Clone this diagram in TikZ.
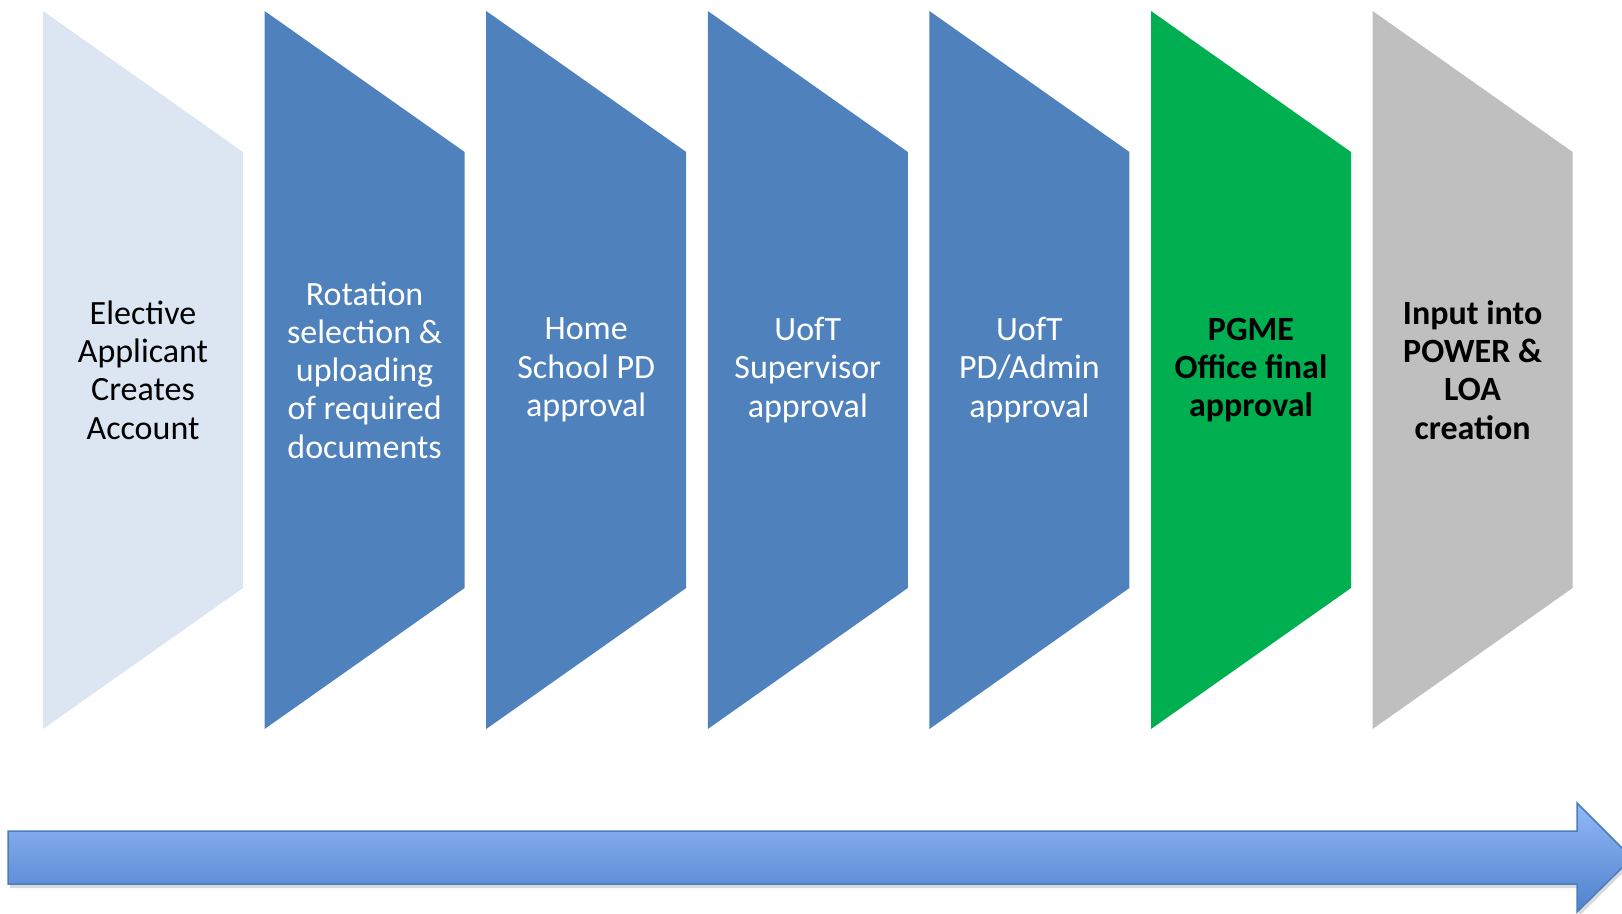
\documentclass[tikz,border=0pt]{standalone}
\usepackage{fontspec}
\setmainfont{Carlito}
\usetikzlibrary{shadows}
\definecolor{cLight}{HTML}{DCE6F2}
\definecolor{cBlue}{HTML}{4F81BD}
\definecolor{cGreen}{HTML}{00B050}
\definecolor{cGray}{HTML}{BFBFBF}
\definecolor{cArrTop}{HTML}{92B8F6}
\definecolor{cArrBot}{HTML}{4F82CC}
\definecolor{cArrLine}{HTML}{4A7EBB}
\begin{document}
\begin{tikzpicture}[x=1pt,y=1pt,
  lbl/.style={align=center,font=\fontsize{34}{38.3}\selectfont,inner sep=0pt},
  lblb/.style={lbl,font=\fontsize{34}{38.3}\selectfont\bfseries},
  declare function={xs(\i)=43+221.6*\i;}]
\useasboundingbox (0,0) rectangle (1622,913);
\clip (0,0) rectangle (1622,913);
% chevron shapes
\foreach \i/\c in {0/cLight,1/cBlue,2/cBlue,3/cBlue,4/cBlue,5/cGreen,6/cGray}{
  \pgfmathsetmacro{\xl}{xs(\i)}
  \pgfmathsetmacro{\xr}{xs(\i)+200}
  \fill[\c] (\xl,902) -- (\xr,761) -- (\xr,325) -- (\xl,184) -- cycle;
}
% labels
\node[lbl,text=black] (s1) at (143,543) {Elective\\Applicant\\Creates\\Account};
\node[lbl,text=white] (s2) at (364.6,543) {Rotation\\selection \&\\uploading\\of required\\documents};
\node[lbl,text=white] (s3) at (586.2,543) {Home\\School PD\\approval};
\node[lbl,text=white] (s4) at (807.8,543) {UofT\\Supervisor\\approval};
\node[lbl,text=white] (s5) at (1029.4,543) {UofT\\PD/Admin\\approval};
\node[lblb,text=black] (s6) at (1251,543) {PGME\\Office final\\approval};
\node[lblb,text=black] (s7) at (1472.6,543) {Input into\\POWER \&\\LOA\\creation};
% big arrow
\path[drop shadow={opacity=0.3,shadow xshift=2pt,shadow yshift=-4pt},
      top color=cArrTop,bottom color=cArrBot,draw=cArrLine,line width=1.5pt]
  (8,82) -- (1577,82) -- (1577,110) -- (1632,55) -- (1577,1) -- (1577,29) -- (8,29) -- cycle;
\end{tikzpicture}
\end{document}
